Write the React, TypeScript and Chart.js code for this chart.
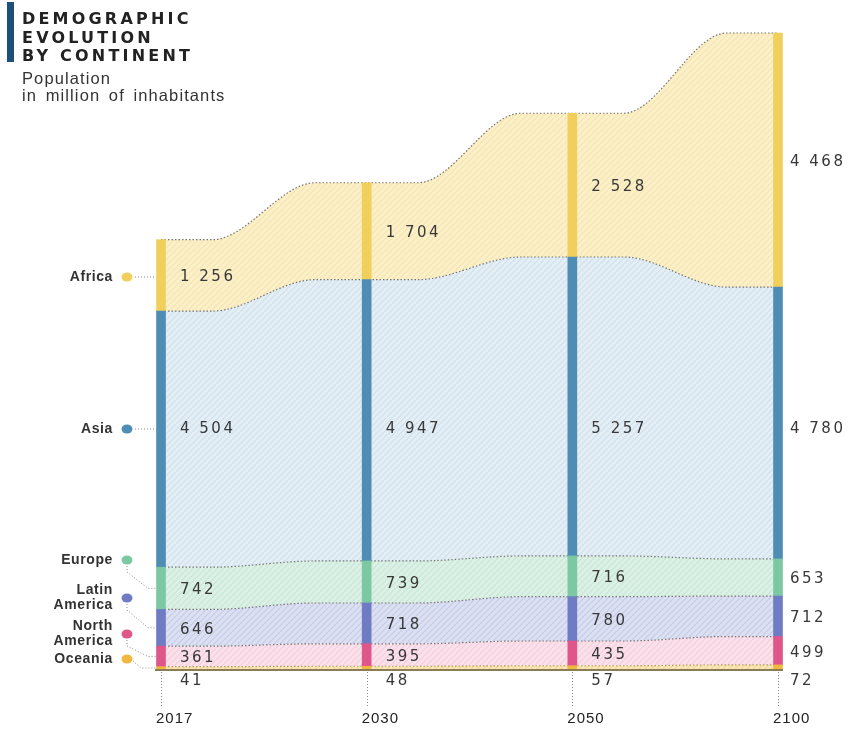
import React, { useEffect, useRef } from "react";
import { Chart, registerables } from "chart.js";

Chart.register(...registerables);

// Population in million of inhabitants
const years = ["2017", "2030", "2050", "2100"];
const oceania = [41, 48, 57, 72];
const northAmerica = [361, 395, 435, 499];
const latinAmerica = [646, 718, 780, 712];
const europe = [742, 739, 716, 653];
const asia = [4504, 4947, 5257, 4780];
const africa = [1256, 1704, 2528, 4468];

type Series = {
  name: string[];
  values: number[];
  bar: string;
  fill: string;
  stripe: string;
  row: number; // pixel row of the left-hand label
};

// bottom-up stacking order
const series: Series[] = [
  { name: ["Oceania"], values: oceania, bar: "#f1b83f", fill: "#fbe6b4", stripe: "rgba(200,150,60,0.18)", row: 659 },
  { name: ["North", "America"], values: northAmerica, bar: "#de568a", fill: "#fbe1eb", stripe: "rgba(200,90,130,0.14)", row: 634 },
  { name: ["Latin", "America"], values: latinAmerica, bar: "#6f7bc2", fill: "#dce0f3", stripe: "rgba(90,100,170,0.16)", row: 598 },
  { name: ["Europe"], values: europe, bar: "#7cc8a3", fill: "#dcf1e5", stripe: "rgba(80,160,120,0.14)", row: 560 },
  { name: ["Asia"], values: asia, bar: "#4f8db5", fill: "#e3eef5", stripe: "rgba(80,130,170,0.12)", row: 429 },
  { name: ["Africa"], values: africa, bar: "#f1cf5c", fill: "#fcf0c8", stripe: "rgba(210,170,60,0.16)", row: 277 },
];

// where the S-bend between two columns starts and ends (fraction of the gap)
const BEND_START = 0.25;
const BEND_END = 0.75;

function flowPoints(values: number[]) {
  const pts: { x: number; y: number }[] = [];
  values.forEach((v, i) => {
    pts.push({ x: i, y: v });
    if (i < values.length - 1) {
      pts.push({ x: i + BEND_START, y: v });
      pts.push({ x: i + BEND_END, y: values[i + 1] });
    }
  });
  return pts;
}

function hatch(base: string, stripe: string) {
  const c = document.createElement("canvas");
  c.width = 6;
  c.height = 6;
  const g = c.getContext("2d")!;
  g.fillStyle = base;
  g.fillRect(0, 0, 6, 6);
  g.strokeStyle = stripe;
  g.lineWidth = 1.2;
  g.beginPath();
  g.moveTo(0, 6);
  g.lineTo(6, 0);
  g.moveTo(-1, 1);
  g.lineTo(1, -1);
  g.moveTo(5, 7);
  g.lineTo(7, 5);
  g.stroke();
  return g.createPattern(c, "repeat")!;
}

const NUM_FONT = '15px "DejaVu Sans"';

const decorations = {
  id: "continentDecorations",
  afterDatasetsDraw(chart: any) {
    const { ctx } = chart;
    const x = chart.scales.x;
    const y = chart.scales.y;
    const y0 = y.getPixelForValue(0);

    ctx.save();

    // baseline
    ctx.strokeStyle = "#8a7c55";
    ctx.lineWidth = 2;
    ctx.setLineDash([]);
    ctx.beginPath();
    ctx.moveTo(x.getPixelForValue(0) - 6, y0 + 1);
    ctx.lineTo(x.getPixelForValue(years.length - 1) + 5, y0 + 1);
    ctx.stroke();

    // dotted drops to the year labels
    ctx.strokeStyle = "#8c8c8c";
    ctx.lineWidth = 1;
    ctx.setLineDash([1, 2]);
    years.forEach((_, i) => {
      const px = Math.round(x.getPixelForValue(i)) + 0.5;
      ctx.beginPath();
      ctx.moveTo(px, y0 + 3);
      ctx.lineTo(px, y0 + 37);
      ctx.stroke();
    });
    ctx.setLineDash([]);

    // year labels
    ctx.fillStyle = "#222222";
    ctx.font = '15px "Liberation Sans"';
    (ctx as any).letterSpacing = "1px";
    ctx.textAlign = "left";
    ctx.textBaseline = "middle";
    years.forEach((yr, i) => {
      ctx.fillText(yr, x.getPixelForValue(i) - 5, y0 + 50);
    });

    // value labels
    ctx.font = NUM_FONT;
    (ctx as any).letterSpacing = "2.5px";
    ctx.fillStyle = "#383838";
    const fmt = (v: number) => String(v).replace(/\B(?=(\d{3})+(?!\d))/g, " ");
    years.forEach((_, i) => {
      const px = x.getPixelForValue(i) + (i === years.length - 1 ? 12 : 19);
      let base = 0;
      series.forEach((s, k) => {
        const v = s.values[i];
        let ly: number;
        if (k === 0) ly = y0 + 12;
        else if (s.name[0] === "Asia") ly = s.row;
        else ly = (y.getPixelForValue(base) + y.getPixelForValue(base + v)) / 2 + 2;
        ctx.fillText(fmt(v), px, ly);
        base += v;
      });
    });

    // left-hand continent labels with dots and dotted leaders
    const barLeft = x.getPixelForValue(0) - 5;
    const dotX = 127;
    let base = 0;
    const targets: number[] = [];
    series.forEach((s, k) => {
      const v = s.values[0];
      targets[k] = k === 0 ? y0 : (y.getPixelForValue(base) + y.getPixelForValue(base + v)) / 2;
      base += v;
    });

    ctx.font = 'bold 14px "Liberation Sans"';
    (ctx as any).letterSpacing = "0.6px";
    ctx.textAlign = "right";
    series.forEach((s, k) => {
      const row = s.row;
      // leader
      ctx.strokeStyle = "#8a8a8a";
      ctx.lineWidth = 1;
      ctx.setLineDash([1, 2]);
      ctx.beginPath();
      const name = s.name[0];
      if (name === "Africa" || name === "Asia") {
        ctx.moveTo(dotX + 8, row);
        ctx.lineTo(barLeft, row);
      } else if (k === 0) {
        ctx.moveTo(dotX + 6, row + 2);
        ctx.lineTo(dotX + 14, targets[k] - 1);
        ctx.lineTo(barLeft, targets[k] - 1);
      } else {
        const t = targets[k];
        ctx.moveTo(dotX, row + 6);
        ctx.lineTo(dotX, row + 12);
        ctx.lineTo(barLeft - 8, t);
        ctx.lineTo(barLeft, t);
      }
      ctx.stroke();
      ctx.setLineDash([]);

      // dot
      ctx.fillStyle = s.bar;
      ctx.beginPath();
      ctx.ellipse(dotX, row, 5.5, 4.5, 0, 0, Math.PI * 2);
      ctx.fill();

      // name
      ctx.fillStyle = "#333333";
      if (s.name.length === 1) {
        ctx.fillText(s.name[0], 113, row);
      } else {
        ctx.fillText(s.name[0], 113, row - 8);
        ctx.fillText(s.name[1], 113, row + 7);
      }
    });

    ctx.restore();
  },
};

export default function App() {
  const canvasRef = useRef<HTMLCanvasElement | null>(null);

  useEffect(() => {
    document.body.style.margin = "0";
    const canvas = canvasRef.current!;

    const areaSets = series.map((s, k) => ({
      type: "line" as const,
      label: s.name.join(" "),
      data: flowPoints(s.values),
      stack: "flow",
      order: 2,
      fill: k === 0 ? "origin" : "-1",
      backgroundColor: hatch(s.fill, s.stripe),
      borderColor: k === 0 ? "#b09a5a" : "#747474",
      borderWidth: 1.2,
      borderDash: [1.5, 2],
      pointRadius: 0,
      cubicInterpolationMode: "monotone" as const,
      clip: false as any,
    }));

    const barSets = series.map((s) => ({
      type: "bar" as const,
      label: s.name.join(" ") + " bar",
      data: s.values.map((v, i) => ({ x: i, y: v })),
      stack: "bars",
      order: 1,
      backgroundColor: s.bar,
      borderWidth: 0,
      barThickness: 9,
      clip: false as any,
    }));

    const chart = new Chart(canvas, {
      type: "line",
      data: { datasets: [...areaSets, ...barSets] as any },
      plugins: [decorations],
      options: {
        animation: false,
        responsive: false,
        devicePixelRatio: 1,
        layout: { padding: { left: 161, right: 72, top: 33, bottom: 62 } },
        plugins: { legend: { display: false }, tooltip: { enabled: false } },
        scales: {
          x: { type: "linear", min: 0, max: years.length - 1, offset: false, display: false },
          y: { stacked: true, min: 0, max: 11184, display: false },
        },
      },
    });
    return () => chart.destroy();
  }, []);

  return (
    <div style={{ position: "relative", width: 850, height: 731, background: "#fff" }}>
      <canvas ref={canvasRef} width={850} height={731} style={{ position: "absolute", left: 0, top: 0 }} />
      <div style={{ position: "absolute", left: 7, top: 2, width: 7, height: 60, background: "#1d4f7a" }} />
      <div
        style={{
          position: "absolute",
          left: 22,
          top: 10,
          font: 'bold 16px "DejaVu Sans"',
          letterSpacing: "3.2px",
          lineHeight: "18.5px",
          color: "#222",
        }}
      >
        <div>DEMOGRAPHIC</div>
        <div>EVOLUTION</div>
        <div>BY CONTINENT</div>
      </div>
      <div
        style={{
          position: "absolute",
          left: 22,
          top: 70,
          font: '16.5px "Liberation Sans"',
          letterSpacing: "1.1px",
          wordSpacing: "3px",
          lineHeight: "17px",
          color: "#333",
        }}
      >
        <div>Population</div>
        <div>in million of inhabitants</div>
      </div>
    </div>
  );
}
